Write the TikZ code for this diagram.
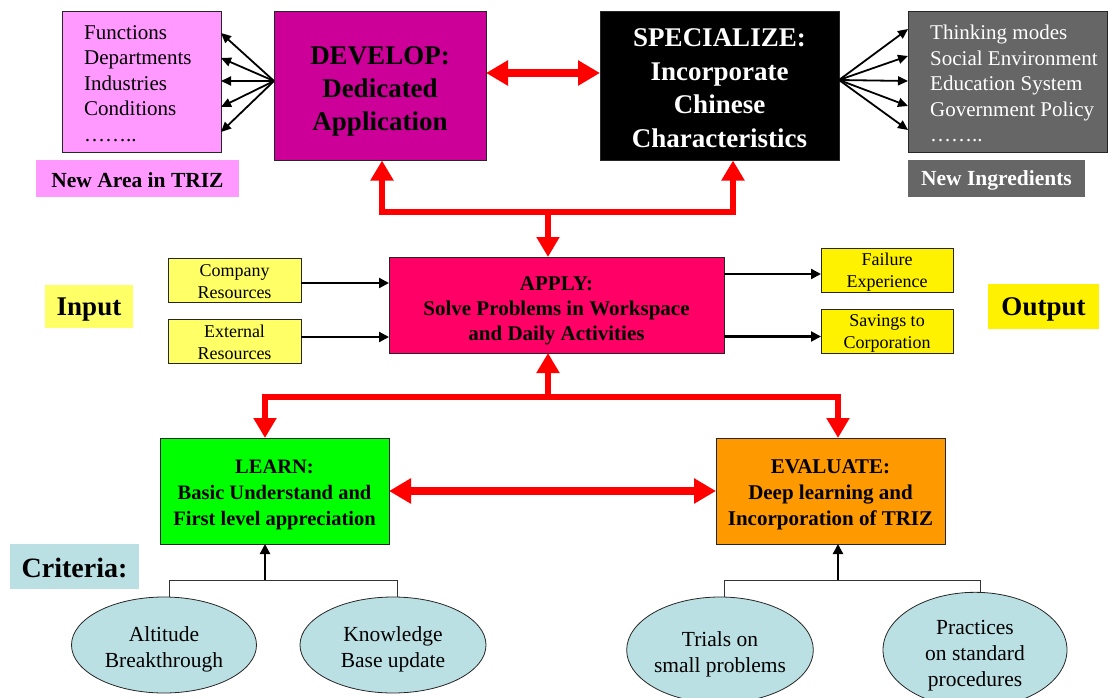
\documentclass[tikz,border=0pt]{standalone}
\usepackage{fontspec}
\setmainfont{Liberation Serif}
\usetikzlibrary{arrows.meta,shapes.geometric}
\definecolor{areapink}{HTML}{FF99FF}
\definecolor{devmag}{HTML}{CC0099}
\definecolor{inggray}{HTML}{666666}
\definecolor{applyred}{HTML}{FF0066}
\definecolor{palyel}{HTML}{FFFF66}
\definecolor{critblue}{HTML}{BBE0E3}
\definecolor{evalorange}{HTML}{FF9900}
\newcommand{\lift}[1]{\rule{0pt}{#1}}
\begin{document}
\begin{tikzpicture}[x=1pt,y=-1pt]
    \tikzset{box/.style = {draw=black!85, line width=0.8pt, inner sep=0pt, outer sep=0pt, align=center}}
    \tikzset{tag/.style = {inner sep=0pt, outer sep=0pt, align=center, font=\fontsize{21.5}{25}\selectfont\bfseries}}
    \tikzset{listtxt/.style = {inner sep=0pt, align=left, font=\fontsize{21}{25.5}\selectfont}}
    \tikzset{crit/.style = {ellipse, draw=black!85, line width=0.8pt, fill=critblue, inner sep=0pt, align=center, font=\fontsize{21.5}{26}\selectfont}}
    \tikzset{redlink/.style = {draw=red, line width=6pt, line cap=rect, -{Triangle[width=22pt,length=20pt]}}}
    \tikzset{redboth/.style = {draw=red, line width=8pt, {Triangle[width=24pt,length=22pt]}-{Triangle[width=24pt,length=22pt]}}}
    \tikzset{blk/.style = {draw=black, line width=2.2pt, -{Triangle[width=10pt,length=10pt]}}}
    \tikzset{fan/.style = {draw=black, line width=1.8pt, -{Triangle[width=9pt,length=10pt]}}}
    \tikzset{tree/.style = {draw=black!80, line width=0.9pt}}
    \useasboundingbox (0,0) rectangle (1108,698);

    % top row
    \node[box, fill=areapink, minimum width=159pt, minimum height=141pt] (fn) at (141.5,81.5) {};
    \node[listtxt, anchor=west] (fntxt) at ([xshift=22pt,yshift=-2pt]fn.west) {Functions\\Departments\\Industries\\Conditions\\……..};
    \node[tag, fill=areapink, minimum width=203pt, minimum height=37pt] (area) at (137.5,178.5) {\lift{18pt}New Area in TRIZ};
    \node[box, fill=devmag, minimum width=212pt, minimum height=149pt, font=\fontsize{27}{33}\selectfont\bfseries] (dev) at (380,86) {\lift{28pt}DEVELOP:\\Dedicated\\Application};
    \node[box, fill=black, text=white, minimum width=239pt, minimum height=149pt, font=\fontsize{27}{33.5}\selectfont\bfseries] (spec) at (719.5,86) {\lift{22pt}SPECIALIZE:\\Incorporate\\Chinese\\Characteristics};
    \node[box, fill=inggray, minimum width=199pt, minimum height=141pt] (ing) at (1007.5,81.5) {};
    \node[listtxt, anchor=west, text=white] (ingtxt) at ([xshift=22pt,yshift=-2pt]ing.west) {Thinking modes\\Social Environment\\Education System\\Government Policy\\……..};
    \node[tag, fill=inggray, text=white, minimum width=177pt, minimum height=37pt] (newing) at (996.5,178.5) {\lift{18pt}New Ingredients};

    \foreach \y [count=\i] in {33,58,81,107,132} {
        \coordinate (fa\i) at (221,\y);
        \draw[fan] ([yshift=5pt]dev.west) -- (fa\i);
    }
    \foreach \y [count=\i] in {29,56,81,106,130} {
        \coordinate (sa\i) at (908,\y);
        \draw[fan] ([yshift=6pt]spec.east) -- (sa\i);
    }
    \draw[redboth] ([yshift=13pt]dev.east) -- ([yshift=13pt]spec.west);

    % middle row
    \node[box, fill=applyred, minimum width=335pt, minimum height=96pt, font=\fontsize{21}{25}\selectfont\bfseries] (apply) at (556.5,305) {\lift{25pt}APPLY:\\Solve Problems in Workspace\\and Daily Activities};
    \node[box, fill=palyel, minimum width=133pt, minimum height=44pt, font=\fontsize{18}{22}\selectfont] (comp) at (234.5,280) {\lift{16pt}Company\\Resources};
    \node[box, fill=palyel, minimum width=133pt, minimum height=44pt, font=\fontsize{18}{22}\selectfont] (ext) at (234.5,341) {\lift{16pt}External\\Resources};
    \node[box, fill=yellow, minimum width=132pt, minimum height=44pt, font=\fontsize{18}{22}\selectfont] (fail) at (887,270) {\lift{16pt}Failure\\Experience};
    \node[box, fill=yellow, minimum width=132pt, minimum height=44pt, font=\fontsize{18}{22}\selectfont] (sav) at (887,331.5) {\lift{16pt}Savings to\\Corporation};
    \node[tag, fill=palyel, minimum width=88pt, minimum height=43pt, font=\fontsize{27}{30}\selectfont\bfseries] (input) at (89,306.5) {\lift{24pt}Input};
    \node[tag, fill=yellow, minimum width=111pt, minimum height=45pt, font=\fontsize{27}{30}\selectfont\bfseries] (output) at (1043.5,306.5) {\lift{24pt}Output};

    \draw[blk] ([yshift=-3pt]comp.east) -- ([yshift=-3pt]comp.east -| apply.west);
    \draw[blk] ([yshift=4pt]ext.east) -- ([yshift=4pt]ext.east -| apply.west);
    \draw[blk] ([yshift=-4pt]fail.west -| apply.east) -- ([yshift=-4pt]fail.west);
    \draw[blk] ([yshift=-5pt]sav.west -| apply.east) -- ([yshift=-5pt]sav.west);

    \coordinate (hub1) at (548,212);
    \coordinate (dl) at (382,212);
    \coordinate (dr) at (733,212);
    \draw[draw=red, line width=6pt, line cap=rect] (dl) -- (dr);
    \draw[redlink] (dl) -- (dl |- dev.south);
    \draw[redlink] (dr) -- (dr |- spec.south);
    \draw[redlink] (hub1) -- (hub1 |- apply.north);

    % bottom row
    \node[box, fill=green, minimum width=229pt, minimum height=106pt, font=\fontsize{20.5}{26}\selectfont\bfseries] (learn) at (274.5,491) {\lift{22pt}LEARN:\\Basic Understand and\\First level appreciation};
    \node[box, fill=evalorange, minimum width=229pt, minimum height=106pt, font=\fontsize{21}{26}\selectfont\bfseries] (eval) at (830.5,491) {\lift{22pt}EVALUATE:\\Deep learning and\\Incorporation of TRIZ};
    \node[tag, fill=critblue, minimum width=129pt, minimum height=45pt, font=\fontsize{28}{30}\selectfont\bfseries] (criteria) at (74.5,566.5) {\lift{22pt}Criteria:};

    \coordinate (hub2) at (548,397);
    \coordinate (ll) at (265,397);
    \coordinate (lr) at (838,397);
    \draw[redlink] (hub2) -- (hub2 |- apply.south);
    \draw[draw=red, line width=6pt, line cap=rect] (ll) -- (lr);
    \draw[redlink] (ll) -- (ll |- learn.north);
    \draw[redlink] (lr) -- (lr |- eval.north);
    \draw[redboth] (learn.east) -- (eval.west);

    \node[crit, minimum width=185pt, minimum height=96pt] (alt) at (164,645) {\lift{23pt}Altitude\\Breakthrough};
    \node[crit, minimum width=186pt, minimum height=96pt] (know) at (393,645) {\lift{23pt}Knowledge\\Base update};
    \node[crit, minimum width=185pt, minimum height=106pt] (trial) at (720,650) {\lift{23pt}Trials on\\small problems};
    \node[crit, minimum width=184pt, minimum height=106pt] (prac) at (975,650) {\lift{25pt}Practices\\on standard\\procedures};

    \coordinate (lj) at (265,580);
    \coordinate (ej) at (838,580);
    \draw[tree] ([xshift=5pt]alt.north) -- ([xshift=5pt]alt.north |- lj) -- ([xshift=4pt]know.north |- lj) -- ([xshift=4pt]know.north);
    \draw[blk] (lj) -- (lj |- learn.south);
    \draw[tree] ([xshift=4pt]trial.north) -- ([xshift=4pt]trial.north |- ej) -- ([xshift=5pt]prac.north |- ej) -- ([xshift=5pt]prac.north);
    \draw[blk] (ej) -- (ej |- eval.south);
\end{tikzpicture}
\end{document}
